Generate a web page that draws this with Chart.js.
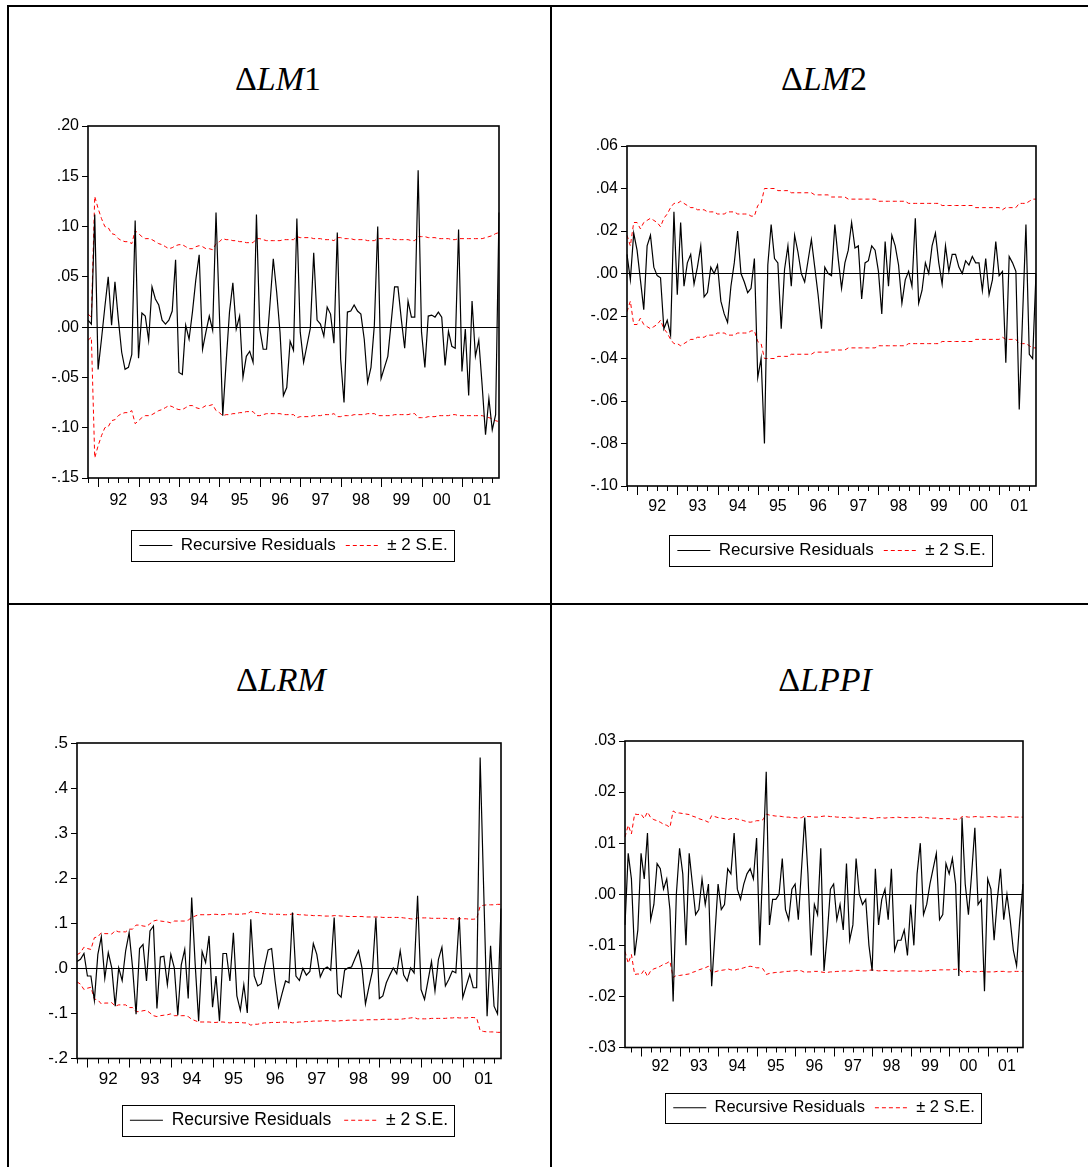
<!DOCTYPE html>
<html>
<head>
<meta charset="utf-8">
<script src="https://cdn.jsdelivr.net/npm/chart.js@4"></script>
<style>
  html, body { margin: 0; padding: 0; background: #fff; }
  #page { position: relative; width: 1088px; height: 1167px; overflow: hidden; }
  .rule { position: absolute; background: #000; }
  .ttl { position: absolute; font-family: "Liberation Serif", "Times New Roman", serif; font-size: 34px; line-height: 34px; white-space: nowrap; transform: translateX(-50%); color: #000; }
  .box { position: absolute; }
</style>
</head>
<body>
<div id="page">
  <div class="rule" style="left:7px;top:5px;width:1081px;height:2px"></div>
  <div class="rule" style="left:7px;top:5px;width:2px;height:1162px"></div>
  <div class="rule" style="left:550px;top:5px;width:2px;height:1162px"></div>
  <div class="rule" style="left:7px;top:603px;width:1081px;height:2px"></div>

  <div class="ttl" style="left:278px;top:62px">&Delta;<i>LM</i>1</div>
  <div class="ttl" style="left:824px;top:62px">&Delta;<i>LM</i>2</div>
  <div class="ttl" style="left:281px;top:663px">&Delta;<i>LRM</i></div>
  <div class="ttl" style="left:825px;top:663px">&Delta;<i>LPPI</i></div>

  <div class="box" style="left:8px;top:110px"><canvas id="cLM1" width="543" height="470"></canvas></div>
  <div class="box" style="left:552px;top:130px"><canvas id="cLM2" width="536" height="455"></canvas></div>
  <div class="box" style="left:8px;top:727px"><canvas id="cLRM" width="543" height="428"></canvas></div>
  <div class="box" style="left:552px;top:725px"><canvas id="cLPPI" width="536" height="417"></canvas></div>
</div>
<script>
// recursive residuals and 2 S.E. band, monthly
const lm1Start = [1991, 10];
const lm1Resid = [
  .007, .003, .112, -.042, -.012, .020, .050, .002, .045, .008,
  -.025, -.042, -.040, -.027, .106, -.031, .014, .011, -.013, .040,
  .028, .022, .007, .003, .007, .016, .067, -.045, -.047, .002,
  -.012, .015, .047, .072, -.022, -.005, .011, -.003, .114, .013,
  -.088, -.035, .015, .044, -.002, .011, -.050, -.029, -.024, -.035,
  .112, -.002, -.022, -.022, .022, .068, .035, -.005, -.068, -.060,
  -.014, -.023, .108, -.005, -.035, -.018, -.001, .074, .007, .003,
  -.009, .020, .013, -.016, .094, -.032, -.075, .015, .016, .022,
  .016, .013, -.012, -.055, -.040, .002, .100, -.051, -.040, -.029,
  .005, .040, .040, .008, -.021, .026, .010, .010, .156, -.005,
  -.040, .011, .012, .010, .015, .010, -.038, -.004, -.019, -.021,
  .097, -.044, -.002, -.068, .026, -.029, -.013, -.058, -.107, -.071,
  -.102, -.087, .114
];
const lm1Band = [
  .013, .010, .130, .118, .108, .100, .099, .093, .092, .088,
  .086, .085, .085, .083, .096, .093, .090, .088, .088, .087,
  .085, .083, .082, .080, .078, .079, .081, .082, .082, .080,
  .078, .078, .080, .081, .080, .078, .078, .077, .083, .085,
  .088, .087, .087, .086, .086, .085, .085, .084, .084, .084,
  .088, .088, .087, .086, .086, .086, .086, .086, .087, .087,
  .087, .087, .090, .089, .089, .089, .089, .088, .088, .088,
  .087, .087, .087, .086, .089, .089, .088, .088, .088, .087,
  .087, .087, .087, .086, .086, .086, .088, .088, .088, .088,
  .088, .087, .087, .087, .087, .087, .086, .086, .090, .090,
  .090, .089, .089, .089, .088, .088, .088, .088, .087, .087,
  .088, .088, .088, .088, .088, .088, .088, .088, .089, .090,
  .091, .093, .094
];

const lm2Start = [1991, 10];
const lm2Resid = [
  .009, -.003, .019, .011, -.003, -.017, .013, .018, .003, -.001,
  -.002, -.026, -.022, -.029, .029, -.010, .024, -.006, .005, .009,
  -.005, .003, .013, -.011, -.009, .003, .000, .004, -.013, -.019,
  -.023, -.006, .005, .020, .000, -.004, -.009, -.007, .007, -.049,
  -.040, -.080, .004, .023, .007, .005, -.026, .002, .013, -.006,
  .018, .010, .000, -.004, .006, .016, .003, -.010, -.026, .003,
  .000, -.001, .023, .007, -.007, .005, .011, .024, .012, .013,
  -.012, .005, .006, .013, .011, .001, -.019, .015, -.006, .018,
  .013, .004, -.014, -.003, .001, -.006, .026, -.014, -.008, .005,
  .000, .013, .019, .005, -.005, .013, .001, .009, .009, .003,
  .000, .006, .004, .008, .005, .005, -.008, .007, -.010, -.003,
  .015, -.001, .001, -.042, .008, .005, .001, -.064, -.020, .023,
  -.038, -.040, .000
];
const lm2Band = [
  .018, .013, .024, .024, .021, .024, .025, .026, .025, .024,
  .022, .026, .028, .031, .033, .033, .034, .033, .032, .031,
  .031, .030, .030, .030, .029, .029, .029, .028, .028, .028,
  .029, .029, .029, .028, .028, .028, .028, .027, .027, .032,
  .033, .040, .040, .040, .040, .039, .039, .039, .039, .038,
  .038, .038, .038, .038, .038, .038, .037, .037, .037, .037,
  .037, .036, .036, .036, .036, .036, .035, .035, .035, .035,
  .035, .035, .035, .035, .035, .034, .034, .034, .034, .034,
  .034, .034, .034, .034, .033, .033, .033, .033, .033, .033,
  .033, .033, .033, .033, .032, .032, .032, .032, .032, .032,
  .032, .032, .032, .032, .031, .031, .031, .031, .031, .031,
  .031, .031, .030, .031, .031, .031, .031, .033, .033, .033,
  .034, .035, .035
];

const lrmStart = [1991, 10];
const lrmResid = [
  .015, .020, .033, -.017, -.017, -.071, .031, .070, -.022, .035,
  .001, -.084, .001, -.027, .039, .079, .001, -.102, .044, .053,
  -.028, .083, .094, -.089, .025, .027, -.036, .031, .001, -.104,
  .008, .042, -.067, .157, .010, -.117, .037, .013, .072, -.086,
  -.017, -.117, .033, .033, -.028, .079, -.061, -.093, -.036, -.099,
  .109, -.017, -.039, -.034, .005, .041, .044, -.028, -.086, -.056,
  -.028, -.032, .124, -.017, -.027, .000, -.015, -.007, .055, .031,
  -.019, -.002, .003, -.004, .113, -.056, -.064, -.004, .001, .003,
  .022, .039, .001, -.079, -.041, -.006, .113, -.067, -.061, -.032,
  -.015, .001, -.012, .039, -.015, -.028, .001, -.010, .161, -.047,
  -.069, -.027, .015, -.050, .020, .047, -.039, -.024, -.006, -.010,
  .114, -.065, -.039, -.013, -.043, -.043, .468, .180, -.106, .050,
  -.084, -.101, .133
];
const lrmBand = [
  .030, .035, .047, .044, .042, .068, .070, .079, .077, .077,
  .076, .084, .081, .081, .081, .087, .087, .096, .096, .094,
  .093, .099, .105, .107, .105, .104, .103, .101, .105, .105,
  .105, .105, .107, .113, .116, .119, .119, .119, .119, .120,
  .120, .119, .119, .120, .121, .120, .120, .120, .121, .121,
  .126, .124, .124, .122, .121, .121, .120, .120, .120, .119,
  .119, .119, .121, .120, .119, .119, .118, .118, .117, .117,
  .117, .116, .116, .116, .117, .117, .116, .116, .115, .115,
  .115, .115, .115, .114, .114, .114, .114, .114, .113, .113,
  .113, .113, .113, .113, .112, .111, .110, .109, .112, .112,
  .112, .112, .111, .111, .111, .111, .111, .110, .110, .109,
  .110, .110, .110, .109, .109, .110, .138, .140, .141, .141,
  .141, .142, .142
];

const lppiStart = [1991, 8];
const lppiResid = [
  -.006, .008, .003, -.012, -.007, .008, .003, .012, -.005, -.002,
  .006, .005, .001, .003, -.003, -.021, .000, .009, .004, -.010,
  .008, .002, -.004, -.003, .003, -.002, .002, -.018, -.008, .002,
  -.003, -.002, .005, .004, .012, .001, -.001, .002, .004, .005,
  .003, .011, -.010, .007, .024, -.006, -.001, -.001, .000, .007,
  -.003, -.005, .001, .002, -.005, .005, .015, .004, -.012, -.002,
  -.004, .009, -.015, -.008, .001, .002, -.005, -.002, -.007, .006,
  -.009, -.006, .007, .000, -.002, -.001, -.010, -.015, .005, -.006,
  -.001, .001, -.005, .005, -.011, -.009, -.009, -.007, -.012, -.002,
  -.010, .004, .010, -.004, -.002, .002, .005, .008, -.005, -.004,
  .006, .004, .007, .002, -.016, .015, .002, -.004, .004, .013,
  -.002, -.001, -.019, .003, .001, -.009, -.001, .005, -.005, .000,
  -.005, -.011, -.014, -.005, .002
];
const lppiBand = [
  .0112, .0135, .0118, .0157, .0156, .0157, .0148, .0161, .0150, .0146,
  .0144, .0141, .0137, .0135, .0131, .0163, .0159, .0159, .0158, .0157,
  .0156, .0153, .0151, .0148, .0146, .0144, .0141, .0154, .0152, .0150,
  .0149, .0148, .0146, .0148, .0149, .0147, .0146, .0144, .0142, .0141,
  .0142, .0144, .0144, .0146, .0157, .0155, .0154, .0153, .0153, .0152,
  .0151, .0151, .0150, .0150, .0149, .0150, .0153, .0152, .0152, .0151,
  .0151, .0152, .0153, .0153, .0152, .0152, .0151, .0151, .0150, .0150,
  .0151, .0150, .0149, .0149, .0150, .0150, .0149, .0148, .0149, .0150,
  .0150, .0149, .0150, .0150, .0150, .0151, .0150, .0150, .0150, .0150,
  .0150, .0150, .0151, .0150, .0150, .0149, .0149, .0149, .0148, .0148,
  .0148, .0148, .0147, .0147, .0146, .0152, .0152, .0151, .0151, .0152,
  .0152, .0151, .0151, .0152, .0152, .0152, .0151, .0151, .0151, .0152,
  .0152, .0151, .0151, .0151, .0151
];

Chart.defaults.font.family = "'Liberation Sans', Arial, sans-serif";
Chart.defaults.font.size = 16;
Chart.defaults.color = "#000";

function monthLabels(start, count) {
    const out = [];
    const base = start[0] * 12 + start[1] - 1;
    for (let k = 0; k < count; k++) {
        const t = base + k;
        out.push(Math.floor(t / 12) + "M" + String(t % 12 + 1).padStart(2, "0"));
    }
    return out;
}

// EViews style numbers: .05, -.10
function evNum(v, dec) {
    if (Math.abs(v) < 1e-9) v = 0;
    return v.toFixed(dec).replace(/^(-?)0\./, "$1.");
}

// box round the plot, quarterly tick marks, frame round the legend
const evFrame = {
    id: "evFrame",
    afterDraw(chart) {
        const ctx = chart.ctx;
        const a = chart.chartArea;
        const x = chart.scales.x;
        ctx.save();
        ctx.setLineDash([]);
        ctx.strokeStyle = "#000";
        ctx.lineWidth = 1;
        chart.data.labels.forEach((lab, i) => {
            const m = Number(lab.slice(5));
            if ((m - 1) % 3 !== 0) return;
            const px = Math.round(x.getPixelForValue(i)) + 0.5;
            ctx.beginPath();
            ctx.moveTo(px, a.bottom);
            ctx.lineTo(px, a.bottom + (m === 1 ? 9 : 5));
            ctx.stroke();
        });
        ctx.lineWidth = 1.6;
        ctx.strokeRect(a.left, a.top, a.right - a.left, a.bottom - a.top);
        const hb = chart.legend && chart.legend.legendHitBoxes;
        if (hb && hb.length) {
            const first = hb[0];
            const last = hb[hb.length - 1];
            const left = Math.round(first.left - 8) + 0.5;
            const top = Math.round(first.top - 7) + 0.5;
            const right = Math.round(last.left + last.width + 6) + 0.5;
            const bottom = Math.round(first.top + first.height + 7) + 0.5;
            ctx.lineWidth = 1;
            ctx.strokeRect(left, top, right - left, bottom - top);
        }
        ctx.restore();
    },
};

function residualChart(id, opts) {
    const labels = monthLabels(opts.start, opts.resid.length);
    new Chart(document.getElementById(id), {
        type: "line",
        data: {
            labels: labels,
            datasets: [
                {
                    label: "Recursive Residuals",
                    data: opts.resid,
                    borderColor: "#000",
                    borderWidth: 1.2,
                },
                {
                    label: "± 2 S.E.",
                    data: opts.band,
                    borderColor: "#ff0000",
                    borderWidth: 1,
                    borderDash: [4, 3],
                },
                {
                    label: "-2 S.E.",
                    data: opts.band.map((v) => -v),
                    borderColor: "#ff0000",
                    borderWidth: 1,
                    borderDash: [4, 3],
                },
            ],
        },
        options: {
            responsive: false,
            animation: false,
            events: [],
            elements: {
                point: { radius: 0 },
                line: { tension: 0 },
            },
            layout: {
                padding: { left: 0, top: 16, right: opts.padRight, bottom: 16 },
            },
            plugins: {
                tooltip: { enabled: false },
                legend: {
                    position: "bottom",
                    fullSize: false,
                    labels: {
                        usePointStyle: true,
                        pointStyle: "line",
                        pointStyleWidth: 33,
                        padding: opts.legendPad,
                        color: "#000",
                        font: { size: opts.legendSize },
                        generateLabels: (chart) =>
                            Chart.defaults.plugins.legend.labels.generateLabels(chart)
                                .filter((item) => item.datasetIndex < 2)
                                .map((item) => {
                                    const ds = chart.data.datasets[item.datasetIndex];
                                    item.lineDash = ds.borderDash || [];
                                    item.strokeStyle = ds.borderColor;
                                    item.lineWidth = 1;
                                    return item;
                                }),
                    },
                },
            },
            scales: {
                x: {
                    grid: { display: false, drawTicks: false },
                    border: { display: false },
                    ticks: {
                        autoSkip: false,
                        maxRotation: 0,
                        minRotation: 0,
                        padding: opts.xPad,
                        color: "#000",
                        font: { size: opts.tickSize },
                        callback: function (value) {
                            const lab = this.getLabelForValue(value);
                            return lab.endsWith("M07") ? lab.slice(2, 4) : "";
                        },
                    },
                    afterFit: (scale) => {
                        scale.height = opts.xHeight;
                    },
                },
                y: {
                    min: opts.yMin,
                    max: opts.yMax,
                    border: { display: false },
                    grid: {
                        color: (ctx) => (ctx.tick && Math.abs(ctx.tick.value) < 1e-9 ? "#000" : "rgba(0,0,0,0)"),
                        tickColor: "#000",
                        tickLength: 6,
                        lineWidth: 1,
                    },
                    ticks: {
                        stepSize: opts.yStep,
                        padding: 3,
                        color: "#000",
                        font: { size: opts.tickSize },
                        callback: (v) => evNum(v, opts.yDec),
                    },
                    afterFit: (scale) => {
                        scale.width = opts.yWidth;
                    },
                },
            },
        },
        plugins: [evFrame],
    });
}

document.addEventListener("DOMContentLoaded", () => {
    residualChart("cLM1", {
        start: lm1Start, resid: lm1Resid, band: lm1Band,
        yMin: -0.15, yMax: 0.20, yStep: 0.05, yDec: 2,
        yWidth: 80, padRight: 52, xPad: 13, xHeight: 49,
        tickSize: 16, legendSize: 17, legendPad: 10,
    });
    residualChart("cLM2", {
        start: lm2Start, resid: lm2Resid, band: lm2Band,
        yMin: -0.10, yMax: 0.06, yStep: 0.02, yDec: 2,
        yWidth: 75, padRight: 52, xPad: 11, xHeight: 46,
        tickSize: 16, legendSize: 17, legendPad: 10,
    });
    residualChart("cLRM", {
        start: lrmStart, resid: lrmResid, band: lrmBand,
        yMin: -0.2, yMax: 0.5, yStep: 0.1, yDec: 1,
        yWidth: 69, padRight: 50, xPad: 11, xHeight: 40,
        tickSize: 17, legendSize: 17.5, legendPad: 13,
    });
    residualChart("cLPPI", {
        start: lppiStart, resid: lppiResid, band: lppiBand,
        yMin: -0.03, yMax: 0.03, yStep: 0.01, yDec: 2,
        yWidth: 73, padRight: 65, xPad: 9, xHeight: 42,
        tickSize: 16, legendSize: 16.5, legendPad: 10,
    });
});
</script>
</body>
</html>
